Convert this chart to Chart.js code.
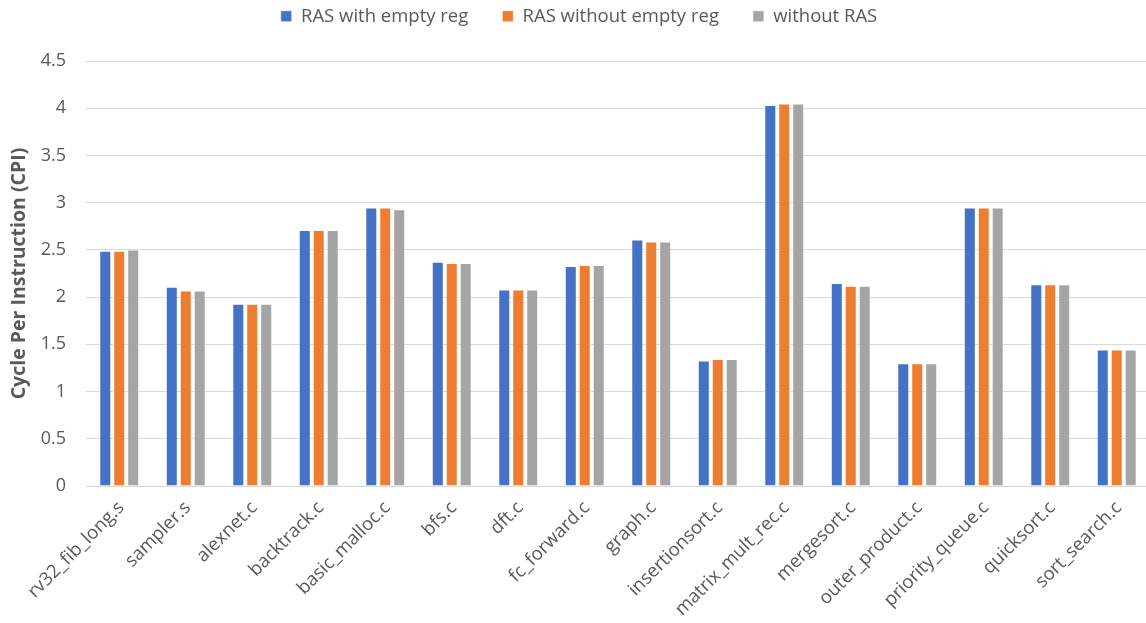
<!DOCTYPE html>
<html lang="en">
<head>
<meta charset="UTF-8">
<title>CPI with and without RAS</title>
<style>
body { margin: 0; background: #fff; overflow: hidden; }
.wrap { position: relative; width: 1160px; height: 623px; }
</style>
</head>
<body>
<div class="wrap"><canvas id="cpiChart"></canvas></div>
<script src="https://cdn.jsdelivr.net/npm/chart.js@4.4.1/dist/chart.umd.min.js"></script>
<script>
const benchmarks = ['rv32_fib_long.s', 'sampler.s', 'alexnet.c', 'backtrack.c', 'basic_malloc.c', 'bfs.c', 'dft.c',
  'fc_forward.c', 'graph.c', 'insertionsort.c', 'matrix_mult_rec.c', 'mergesort.c', 'outer_product.c',
  'priority_queue.c', 'quicksort.c', 'sort_search.c'];
const rasWithEmptyReg = [2.49, 2.11, 1.93, 2.71, 2.95, 2.375, 2.08, 2.33, 2.61, 1.33, 4.035, 2.15, 1.30, 2.95, 2.135, 1.445];
const rasWithoutEmptyReg = [2.49, 2.07, 1.93, 2.71, 2.95, 2.36, 2.08, 2.34, 2.59, 1.345, 4.05, 2.12, 1.30, 2.95, 2.135, 1.445];
const withoutRAS = [2.505, 2.07, 1.93, 2.71, 2.93, 2.36, 2.08, 2.34, 2.59, 1.345, 4.05, 2.12, 1.30, 2.95, 2.135, 1.445];
const yTicks = [0, 0.5, 1, 1.5, 2, 2.5, 3, 3.5, 4, 4.5];

const FONT = 'Open Sans';
const TEXT = '#595959';

function series(label, data, color) {
  return { label, data, backgroundColor: color, borderColor: 'rgba(255,255,255,0.6)', borderWidth: 1,
    barPercentage: 0.86, categoryPercentage: 0.63 };
}

// keep the plot top where excel put it, legend sits higher up
const legendSpace = {
  id: 'legendSpace',
  beforeInit(chart) {
    const fit = chart.legend.fit;
    chart.legend.fit = function () {
      fit.call(this);
      this.height = 88;
    };
  }
};

new Chart(document.getElementById('cpiChart'), {
  type: 'bar',
  data: {
    labels: benchmarks,
    datasets: [
      series('RAS with empty reg', rasWithEmptyReg, '#4472C4'),
      series('RAS without empty reg', rasWithoutEmptyReg, '#ED7D31'),
      series('without RAS', withoutRAS, '#A5A5A5')
    ]
  },
  plugins: [legendSpace],
  options: {
    responsive: true,
    maintainAspectRatio: false,
    animation: false,
    layout: { padding: { top: -27, right: 10, left: 8 } },
    plugins: {
      legend: {
        position: 'top',
        labels: { boxWidth: 11, boxHeight: 11, padding: 34, color: TEXT, font: { family: FONT, size: 18.5 } }
      },
      tooltip: { enabled: false }
    },
    scales: {
      x: {
        grid: { display: false },
        border: { color: '#D9D9D9', width: 1 },
        ticks: { color: TEXT, font: { family: FONT, size: 18.5 }, minRotation: 45, maxRotation: 45, autoSkip: false, labelOffset: 2 },
        afterFit: s => { s.height = 137; }
      },
      y: {
        min: 0, max: 4.5,
        afterBuildTicks: s => { s.ticks = yTicks.map(v => ({ value: v })); },
        grid: { color: '#D9D9D9', drawTicks: false },
        border: { display: false },
        ticks: { color: TEXT, font: { family: FONT, size: 18 }, padding: 20, callback: v => String(v) },
        title: { display: true, text: 'Cycle Per Instruction (CPI)', color: TEXT, font: { family: FONT, size: 19.5, weight: 'bold' }, padding: 0 },
        afterFit: s => { s.width = 78; }
      }
    }
  }
});
</script>
</body>
</html>
